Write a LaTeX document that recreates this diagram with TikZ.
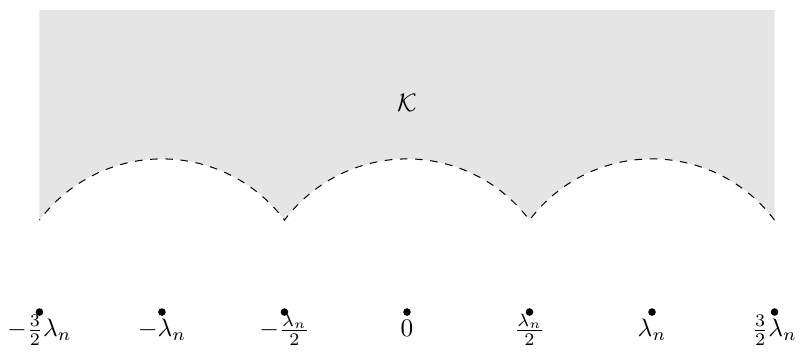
\documentclass[tikz,border=0pt]{standalone}
\usepackage{amsmath}
\usepackage{tikz}
\usetikzlibrary{positioning, calc}

\tikzset{
    pt/.style={circle, fill=black, inner sep=0pt, minimum size=3pt},
    ptlabel/.style={anchor=base, inner sep=1pt},
}

\begin{document}
\begin{tikzpicture}[x=1.7cm, y=1.7cm]
        % Region K above three circular arcs
        % Arcs: centres at -lambda_n, 0, lambda_n, radius 1.25 (units of lambda_n/2)
        % Meeting points at +-lambda_n/2, +-3/2 lambda_n, angle 36.87 deg
        \useasboundingbox (-3.322,-0.335) rectangle (3.208,2.547);

        % shaded region
        \fill[black!10] (-3,2.465) -- (3,2.465) -- (3,0.75)
            arc (36.87:143.13:1.25) arc (36.87:143.13:1.25)
            arc (36.87:143.13:1.25) -- cycle;
        % dashed boundary
        \draw[dashed, thin] (3,0.75)
            arc (36.87:143.13:1.25) arc (36.87:143.13:1.25)
            arc (36.87:143.13:1.25);
        \node (K) at (0,1.71) {$\mathcal{K}$};

        % points on the real line
        \node[pt] (m3) at (-3,0) {};
        \node[pt] (m2) at (-2,0) {};
        \node[pt] (m1) at (-1,0) {};
        \node[pt] (z0) at (0,0) {};
        \node[pt] (p1) at (1,0) {};
        \node[pt] (p2) at (2,0) {};
        \node[pt] (p3) at (3,0) {};

        % labels
        \node[ptlabel] (lm3) at ($(m3)+(0,-0.2)$) {$-\frac{3}{2}\lambda_n$};
        \node[ptlabel] (lm2) at ($(m2)+(0,-0.2)$) {$-\lambda_n$};
        \node[ptlabel] (lm1) at ($(m1)+(0,-0.2)$) {$-\frac{\lambda_n}{2}$};
        \node[ptlabel] (lz0) at ($(z0)+(0,-0.2)$) {$0$};
        \node[ptlabel] (lp1) at ($(p1)+(0,-0.2)$) {$\frac{\lambda_n}{2}$};
        \node[ptlabel] (lp2) at ($(p2)+(0,-0.2)$) {$\lambda_n$};
        \node[ptlabel] (lp3) at ($(p3)+(0,-0.2)$) {$\frac{3}{2}\lambda_n$};
    \end{tikzpicture}
\end{document}
